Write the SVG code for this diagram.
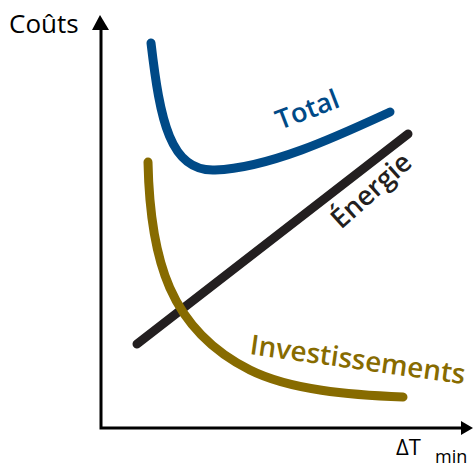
<svg xmlns="http://www.w3.org/2000/svg" width="473" height="467" viewBox="0 0 473 467">
<style>
.axis{stroke:#000;stroke-width:3;fill:none}
.curve{fill:none;stroke-width:9;stroke-linecap:round}
.lbl{font-family:"Open Sans","DejaVu Sans",sans-serif;font-weight:600;font-size:27px}
.ax{font-family:"Open Sans","DejaVu Sans",sans-serif;fill:#000}
</style>
<rect width="473" height="467" fill="#fff"/>
<g id="axes">
<path class="axis" d="M101,28 V428 H463"/>
<polygon points="100,15 92,30 109,30" fill="#000"/>
<polygon points="473,428 461,421 461,435" fill="#000"/>
<text class="ax" x="9" y="33" font-size="26">Coûts</text>
<text class="ax" x="396" y="455" font-size="22">ΔT</text>
<text class="ax" x="435" y="463" font-size="18">min</text>
</g>
<g id="connectors">
<path id="total" class="curve" stroke="#004a87" d="M151,43 C160,120 170,172 215,170 C270,168 340,135 390,112"/>
<path id="energie" class="curve" stroke="#231f20" d="M137,344 L408,134"/>
<path id="invest" class="curve" stroke="#876b00" d="M148,162 C150,260 170,330 250,370 C290,390 350,395 403,397"/>
</g>
<g id="labels">
<text class="lbl" fill="#004a87" transform="translate(280,130) rotate(-21)">Total</text>
<text class="lbl" fill="#231f20" transform="translate(341,230) rotate(-42)">Énergie</text>
<text class="lbl" fill="#876b00" style="font-size:27.8px" transform="translate(249,354) rotate(8)">Investissements</text>
</g>
</svg>
